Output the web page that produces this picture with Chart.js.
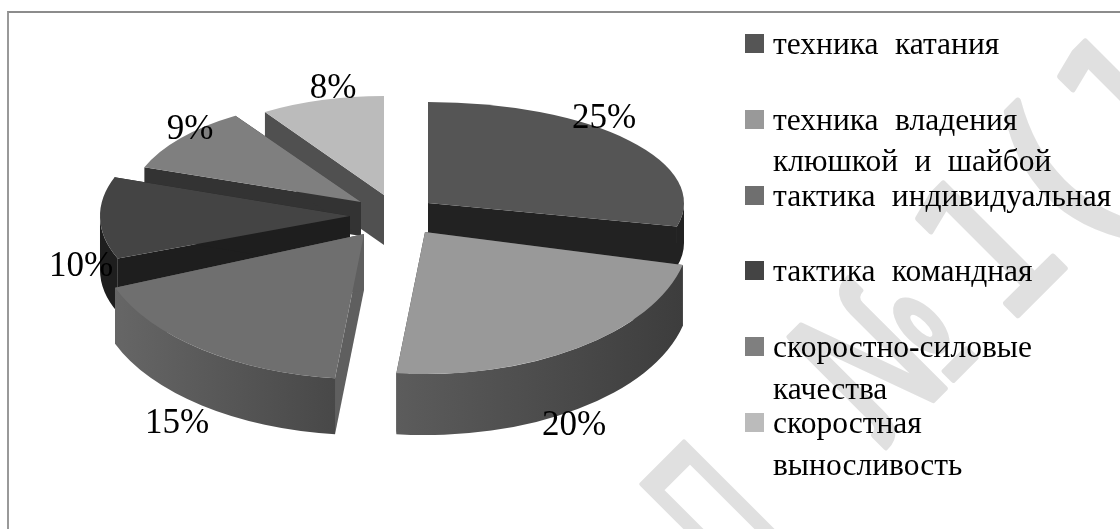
<!DOCTYPE html>
<html>
<head>
<meta charset="utf-8">
<style>
  html, body { margin: 0; padding: 0; background: #fff; }
  #wrap { position: relative; width: 1120px; height: 529px; overflow: hidden; }
  #myChart { position: absolute; left: 0; top: 0; }
  #frame { position: absolute; left: 7px; top: 11px; right: 0; bottom: 0; border-left: 2px solid #999; border-top: 2px solid #8c8c8c; }
  .swatch { position: absolute; left: 745px; width: 19px; height: 19px; }
  .item { position: absolute; left: 773px; font: 31.5px/41.5px "Liberation Serif", serif; word-spacing: 8.5px; color: #000; white-space: nowrap; }
</style>
</head>
<body>
<div id="wrap">
  <canvas id="myChart" width="1120" height="529"></canvas>
  <div id="frame"></div>
  <div id="legend"></div>
</div>
<script src="https://cdn.jsdelivr.net/npm/chart.js@4/dist/chart.umd.min.js"></script>
<script>
// data
const categories = [
  ["техника катания"],
  ["техника владения", "клюшкой и шайбой"],
  ["тактика индивидуальная"],
  ["тактика командная"],
  ["скоростно-силовые", "качества"],
  ["скоростная", "выносливость"]
];
const values = [25, 20, 15, 10, 9, 8];

// colours of each slice: top, cut faces, outer wall (light to dark)
const topColors = ['#555555', '#999999', '#6f6f6f', '#444444', '#7f7f7f', '#bbbbbb'];
const cutColors = ['#222222', '#3a3a3a', '#5f5f5f', '#1e1e1e', '#333333', '#505050'];
const wallLeft = ['#222222', '#5c5c5c', '#666666', '#1e1e1e', '#444444', '#666666'];
const wallRight = ['#222222', '#3d3d3d', '#484848', '#1e1e1e', '#333333', '#555555'];

// fake 3d: where each slice tip lands and how its circle gets flattened
const tipX = [428, 425, 364, 350, 361, 384];
const tipY = [203, 232, 234, 216, 202, 195];
const radiusX = [256, 265, 268, 250, 230, 218];
const radiusY = [101, 142, 145, 115, 103, 99];
const depth = [40, 61, 56, 54, 34, 50];
const paintOrder = [5, 4, 3, 0, 2, 1]; // back to front

const labelX = [604, 574, 177, 81, 190, 333];
const labelY = [128, 435, 433, 276, 139, 98];

// watermark glyphs, along a baseline rotated by -45deg
const markGlyphs = ["П", "№", "1", "(", "1"];
const markU = [141, 376, 527, 625, 728];
const markScale = [0.55, 0.68, 0.8, 1, 0.8];

const pie3d = {
  id: 'pie3d',
  beforeDraw(chart) {
    const ctx = chart.ctx;
    ctx.save();
    ctx.fillStyle = ctx.strokeStyle = '#e0e0e0';
    ctx.lineWidth = 6;
    ctx.lineJoin = 'round';
    ctx.font = '200px "DejaVu Sans"';
    ctx.textAlign = 'center';
    ctx.translate(0, 1333);
    ctx.rotate(-Math.PI / 4);
    markGlyphs.forEach((g, i) => {
      ctx.save();
      ctx.translate(markU[i] + 943, 0);
      ctx.scale(markScale[i], 1);
      ctx.fillText(g, 0, 0);
      ctx.strokeText(g, 0, 0);
      ctx.restore();
    });
    ctx.restore();
  },
  beforeDatasetsDraw(chart) {
    const ctx = chart.ctx;
    const arcs = chart.getDatasetMeta(0).data;

    paintOrder.forEach(i => {
      const arc = arcs[i];
      const a0 = arc.startAngle, a1 = arc.endAngle;
      const x = tipX[i], y = tipY[i], rx = radiusX[i], ry = radiusY[i], d = depth[i];

      // the two radial cuts
      ctx.fillStyle = cutColors[i];
      [a0, a1].forEach(a => {
        const ex = x + Math.cos(a) * rx, ey = y + Math.sin(a) * ry;
        ctx.beginPath();
        ctx.moveTo(x, y);
        ctx.lineTo(ex, ey);
        ctx.lineTo(ex, ey + d);
        ctx.lineTo(x, y + d);
        ctx.closePath();
        ctx.fill();
      });

      // outer wall, only the part that faces the viewer
      const w0 = Math.max(a0, 0), w1 = Math.min(a1, Math.PI);
      if (w0 < w1) {
        const g = ctx.createLinearGradient(x + Math.cos(w1) * rx, 0, x + Math.cos(w0) * rx, 0);
        g.addColorStop(0, wallLeft[i]);
        g.addColorStop(1, wallRight[i]);
        ctx.fillStyle = g;
        ctx.beginPath();
        ctx.ellipse(x, y, rx, ry, 0, w0, w1);
        ctx.ellipse(x, y + d, rx, ry, 0, w1, w0, true);
        ctx.closePath();
        ctx.fill();
      }

      // top face is the library's own arc, squashed
      ctx.save();
      ctx.translate(x, y);
      ctx.scale(rx / arc.outerRadius, ry / arc.outerRadius);
      ctx.translate(-arc.x, -arc.y);
      arc.draw(ctx);
      ctx.restore();
    });
    return false;
  },
  afterDraw(chart) {
    const ctx = chart.ctx;
    ctx.save();
    ctx.fillStyle = '#000';
    ctx.font = '35px "Liberation Serif"';
    ctx.textAlign = 'center';
    values.forEach((v, i) => ctx.fillText(v + '%', labelX[i], labelY[i]));
    ctx.restore();
  }
};

const chart = new Chart(document.getElementById('myChart').getContext('2d'), {
  type: 'pie',
  data: {
    labels: categories.map(c => c.join(' ')),
    datasets: [{ data: values, backgroundColor: topColors, borderWidth: 0 }]
  },
  options: {
    responsive: false,
    animation: false,
    plugins: { legend: { display: false }, tooltip: { enabled: false } }
  },
  plugins: [pie3d]
});

// legend
const legendEl = document.getElementById('legend');
categories.forEach((lines, i) => {
  const top = 34 + 75.8 * i;
  const sw = document.createElement('div');
  sw.className = 'swatch';
  sw.style.top = top + 'px';
  sw.style.background = topColors[i];
  legendEl.appendChild(sw);
  const it = document.createElement('div');
  it.className = 'item';
  it.style.top = (top - 11) + 'px';
  it.innerHTML = lines.map(l => l.replace('-', '<b>-</b>')).join('<br>');
  legendEl.appendChild(it);
});
</script>
</body>
</html>
